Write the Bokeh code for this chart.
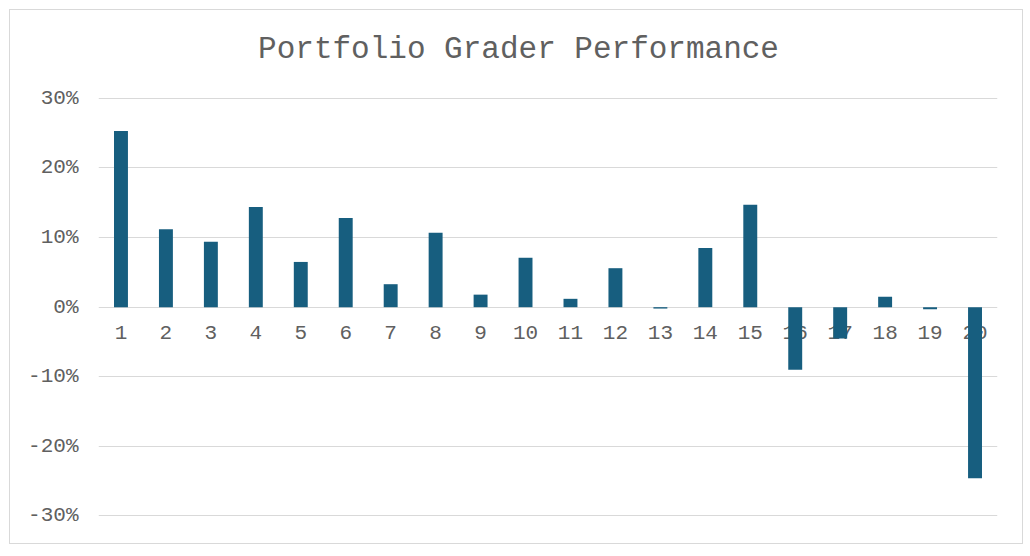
from bokeh.plotting import figure
from bokeh.models import NumeralTickFormatter, FixedTicker, ColumnDataSource
from bokeh.core.properties import value
from bokeh.embed import file_html
from bokeh.resources import INLINE

categories = [str(i) for i in range(1, 21)]
returns = [0.253, 0.112, 0.094, 0.144, 0.065, 0.128, 0.033, 0.107, 0.018, 0.071,
           0.012, 0.056, -0.002, 0.085, 0.147, -0.090, -0.045, 0.015, -0.003, -0.246]
y_ticks = [-0.3, -0.2, -0.1, 0.0, 0.1, 0.2, 0.3]
title_text = "Portfolio Grader Performance"

FONT = "Liberation Mono"
GRAY = "#606060"
BAR = "#175E7F"

# frame extends to the top of the chart box so the title can sit inside it
p = figure(width=1012, height=533, x_range=categories, y_range=(-0.3008, 0.4263),
           output_backend="svg", toolbar_location=None,
           min_border_left=88, min_border_right=25, min_border_top=0, min_border_bottom=27)
p.styles = {"margin-left": "10px", "margin-top": "10px",
            "outline": "1.5px solid #d9d9d9"}

p.outline_line_color = None
p.background_fill_color = "white"
p.border_fill_color = "white"

p.xaxis.visible = False
p.xgrid.grid_line_color = None
p.ygrid.grid_line_color = "#d9d9d9"
p.ygrid.grid_line_width = 1

ya = p.yaxis[0]
ya.ticker = FixedTicker(ticks=y_ticks)
ya.formatter = NumeralTickFormatter(format="0%")
ya.axis_line_color = None
ya.major_tick_line_color = None
ya.minor_tick_line_color = None
ya.major_tick_out = 0
ya.major_tick_in = 0
ya.major_label_standoff = 20
ya.major_label_text_font = FONT
ya.major_label_text_font_size = "21px"
ya.major_label_text_color = GRAY

src = ColumnDataSource(dict(cat=categories, val=returns, zero=[0.0] * len(categories)))

title_src = ColumnDataSource(dict(x=["10"], y=[0.3705], t=[title_text]))
p.text(x="x", y="y", text="t", source=title_src, text_font=value(FONT),
       text_font_size="31px", text_color=GRAY, text_align="center",
       text_baseline="middle", x_offset=-7)

p.text(x="cat", y="zero", text="cat", source=src, text_font=value(FONT),
       text_font_size="21px", text_color=GRAY, text_align="center",
       text_baseline="middle", y_offset=25)

p.vbar(x="cat", top="val", bottom=0, width=0.31, source=src,
       fill_color=BAR, line_color=None)

open("out.html", "w").write(file_html(p, INLINE))
